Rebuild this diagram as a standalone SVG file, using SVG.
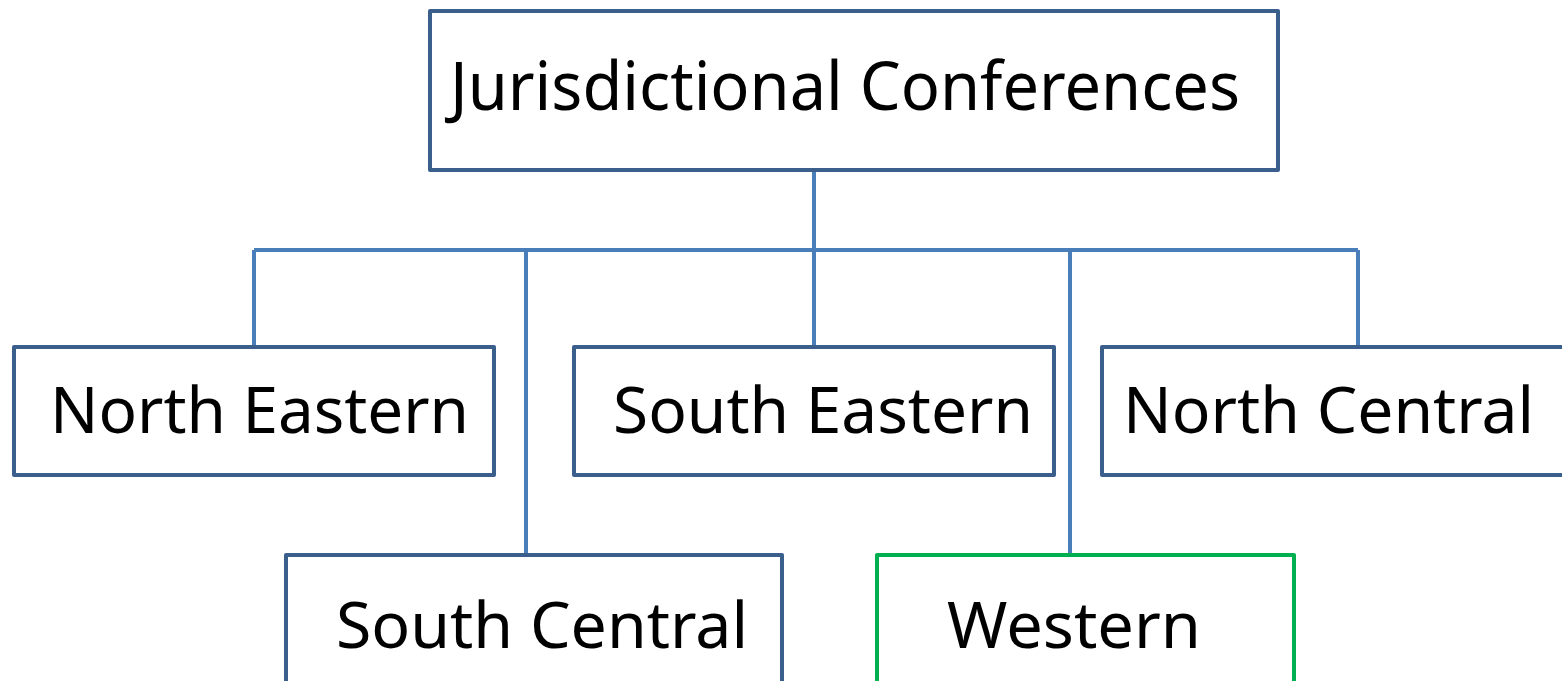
<svg xmlns="http://www.w3.org/2000/svg" width="1562" height="681" viewBox="0 0 1562 681">
<style>
.box{fill:#FFFFFF;stroke:#3A5F8C;stroke-width:4;stroke-linejoin:round}
.green{stroke:#00B050}
.lbl{font-family:"Noto Sans","Open Sans",sans-serif;fill:#000000}
.conn{stroke:#4A7EBB;stroke-width:4;fill:none}
</style>
<rect width="1562" height="681" fill="#FFFFFF"/>
<g id="connectors">
<line class="conn" x1="814" y1="170" x2="814" y2="250"/>
<line class="conn" x1="254" y1="250" x2="1358" y2="250"/>
<line class="conn" x1="254" y1="250" x2="254" y2="347"/>
<line class="conn" x1="526" y1="250" x2="526" y2="555"/>
<line class="conn" x1="814" y1="250" x2="814" y2="347"/>
<line class="conn" x1="1070" y1="250" x2="1070" y2="555"/>
<line class="conn" x1="1358" y1="250" x2="1358" y2="347"/>
</g>
<g id="jurisdictional-conferences">
<rect class="box" x="430" y="11" width="848" height="159"/>
<text class="lbl" x="450" y="110" font-size="67" textLength="790" lengthAdjust="spacingAndGlyphs">Jurisdictional Conferences</text>
</g>
<g id="north-eastern">
<rect class="box" x="14" y="347" width="480" height="128"/>
<text class="lbl" x="50" y="433" font-size="63" textLength="419" lengthAdjust="spacingAndGlyphs">North Eastern</text>
</g>
<g id="south-eastern">
<rect class="box" x="574" y="347" width="480" height="128"/>
<text class="lbl" x="613" y="433" font-size="63" textLength="420" lengthAdjust="spacingAndGlyphs">South Eastern</text>
</g>
<g id="north-central">
<rect class="box" x="1102" y="347" width="480" height="128"/>
<text class="lbl" x="1123" y="433" font-size="63" textLength="411" lengthAdjust="spacingAndGlyphs">North Central</text>
</g>
<g id="south-central">
<rect class="box" x="286" y="555" width="496" height="150"/>
<text class="lbl" x="336" y="648" font-size="63" textLength="412" lengthAdjust="spacingAndGlyphs">South Central</text>
</g>
<g id="western">
<rect class="box green" x="877" y="555" width="417" height="150"/>
<text class="lbl" x="947" y="648" font-size="63" textLength="254" lengthAdjust="spacingAndGlyphs">Western</text>
</g>
</svg>
